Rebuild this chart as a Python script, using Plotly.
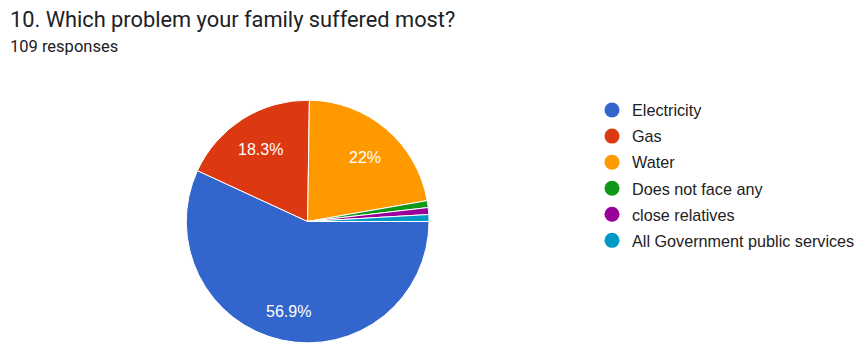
import math
import plotly.graph_objects as go

# Survey answers: "Which problem your family suffered most?"
categories = ["Electricity", "Gas", "Water", "Does not face any",
              "close relatives", "All Government public services"]
counts = [62, 20, 24, 1, 1, 1]
colors = ["#3366cc", "#dc3912", "#ff9900", "#109618", "#990099", "#0099c6"]

title = "10. Which problem your family suffered most?"
total = sum(counts)
subtitle = f"{total} responses"

W, H = 860, 343
TITLE_FONT = "Roboto, Arial, sans-serif"
CHART_FONT = "Arial, 'Liberation Sans', sans-serif"

# Pie geometry (pixels): centre and radius inside the 860x343 page
CX, CY, R = 308.0, 221.5, 121.5
START_DEG = 90.0          # first slice starts at 3 o'clock, going clockwise
LABEL_FRAC = 0.73         # percent labels sit at this fraction of the radius

fig = go.Figure()

fig.add_trace(go.Pie(
    labels=categories,
    values=counts,
    textinfo="none",
    marker=dict(colors=colors, line=dict(color="white", width=1)),
    sort=False,
    direction="clockwise",
    rotation=START_DEG,
    showlegend=False,
    hoverinfo="label+percent",
    domain=dict(x=[(CX - R) / W, (CX + R) / W], y=[0, 2 * R / H]),
))

# Percent labels along each slice's bisector, hidden on tiny slices
annotations = []
acc = 0.0
for c in counts:
    frac = c / total
    mid = math.radians(START_DEG + 360.0 * (acc + frac / 2))
    acc += frac
    pct = round(frac * 100, 1)
    if pct < 5:
        continue
    px = CX + R * LABEL_FRAC * math.sin(mid)
    py = CY - R * LABEL_FRAC * math.cos(mid)
    annotations.append(dict(
        text=f"{pct:g}%", xref="paper", yref="paper",
        x=px / W, y=1 - py / H, xanchor="center", yanchor="middle",
        yshift=-3, showarrow=False,
        font=dict(family=CHART_FONT, size=16, color="white"),
    ))

# Circle legend entries, one group each so the rows can be spaced out
for name, col in zip(categories, colors):
    fig.add_trace(go.Scatter(
        x=[None], y=[None], mode="markers", name=name,
        legendgroup=name,
        marker=dict(color=col, size=15, symbol="circle"),
    ))

annotations += [
    dict(text=title, xref="paper", yref="paper", x=8 / W, y=1 - 19.5 / H,
         xanchor="left", yanchor="middle", showarrow=False,
         font=dict(family=TITLE_FONT, size=21.8, color="#202124")),
    dict(text=subtitle, xref="paper", yref="paper", x=8 / W, y=1 - 47 / H,
         xanchor="left", yanchor="middle", showarrow=False,
         font=dict(family=TITLE_FONT, size=16.5, color="#202124")),
]

fig.update_layout(
    width=W, height=H,
    margin=dict(l=0, r=0, t=0, b=0),
    paper_bgcolor="white",
    plot_bgcolor="white",
    xaxis=dict(visible=False),
    yaxis=dict(visible=False),
    legend=dict(
        x=593 / W, xanchor="left",
        y=1 - 93 / H, yanchor="top",
        font=dict(family=CHART_FONT, size=16.2, color="#222222"),
        traceorder="grouped",
        tracegroupgap=2,
        itemsizing="trace",
        bgcolor="rgba(0,0,0,0)",
    ),
    annotations=annotations,
)

fig.write_html("out.html")
